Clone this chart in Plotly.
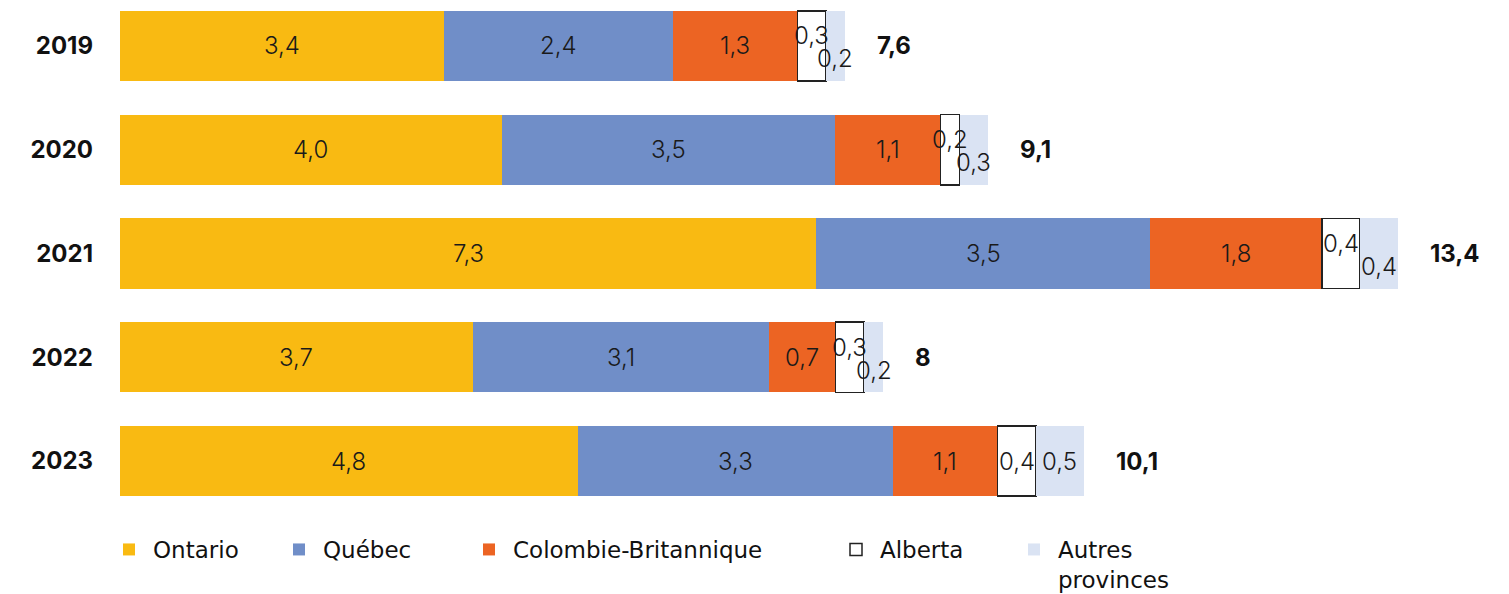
import plotly.graph_objects as go
import numpy as np

years = ["2019", "2020", "2021", "2022", "2023"]
series_names = ["Ontario", "Québec", "Colombie-Britannique", "Alberta", "Autres provinces"]
legend_labels = ["Ontario", "Québec", "Colombie-Britannique", "Alberta", "Autres<br>provinces"]
ontario = [3.4, 4.0, 7.3, 3.7, 4.8]
quebec = [2.4, 3.5, 3.5, 3.1, 3.3]
colombie = [1.3, 1.1, 1.8, 0.7, 1.1]
alberta = [0.3, 0.2, 0.4, 0.3, 0.4]
autres = [0.2, 0.3, 0.4, 0.2, 0.5]
totals = [7.6, 9.1, 13.4, 8, 10.1]
total_labels = ["7,6", "9,1", "13,4", "8", "10,1"]
# whether small-segment labels are staggered vertically (style)
stagger = [True, True, True, True, False]

values = [ontario, quebec, colombie, alberta, autres]
colors = ["#F9BA12", "#708EC8", "#EC6423", "#FFFFFF", "#DAE3F3"]
line_w = [0, 0, 0, 1.5, 0]
legend_ids = ["legend", "legend2", "legend3", "legend4", "legend5"]
legend_x_px = [105, 275, 465, 832, 1010]

FONT = "Inter, Roboto, sans-serif"
fmt = lambda v: f"{v:.1f}".replace(".", ",")

fig = go.Figure()
for i, name in enumerate(series_names):
    fig.add_trace(go.Bar(
        y=years, x=values[i], orientation="h", name=legend_labels[i],
        marker=dict(color=colors[i], line=dict(color="#222222", width=line_w[i])),
        legend=legend_ids[i], hoverinfo="skip",
    ))

annotations = []
cum = np.zeros(len(years))
for i in range(len(series_names)):
    v = np.array(values[i])
    mids = cum + v / 2
    for j, y in enumerate(years):
        ys = 0
        if stagger[j] and i == 3:
            ys = 10
        elif stagger[j] and i == 4:
            ys = -13
        annotations.append(dict(x=float(mids[j]), y=j, text=fmt(v[j]), showarrow=False,
                                xref="x", yref="y", yshift=ys,
                                font=dict(family=FONT, size=24, color="#1a1a1a", weight=300)))
    cum = cum + v

for j, y in enumerate(years):
    annotations.append(dict(x=float(cum[j]), y=j, text=f"<b>{total_labels[j]}</b>", showarrow=False,
                            xref="x", yref="y", xanchor="left", xshift=30,
                            font=dict(family=FONT, size=24, color="#111111")))

layout_legends = {}
for k, lid in enumerate(legend_ids):
    layout_legends[lid] = dict(
        x=legend_x_px[k] / 1509, xref="container", xanchor="left",
        y=1 - 528 / 594, yref="container", yanchor="top",
        orientation="h", bgcolor="rgba(0,0,0,0)", itemwidth=38,
        font=dict(family="DejaVu Sans, Arial, sans-serif", size=23, color="#111111"),
        valign="top", itemclick=False, itemdoubleclick=False,
    )

fig.update_layout(
    width=1509, height=594,
    margin=dict(l=120, r=0, t=0, b=84),
    barmode="stack", bargap=0.325,
    plot_bgcolor="white", paper_bgcolor="white",
    xaxis=dict(range=[0, 14.56], visible=False, fixedrange=True),
    yaxis=dict(type="category", range=[4.472, -0.443], showgrid=False, zeroline=False,
               showline=False, ticks="", ticklabelstandoff=26,
               tickfont=dict(family=FONT, size=24, color="#111111", weight="bold")),
    annotations=annotations,
    showlegend=True,
    **layout_legends,
)

fig.write_html("out.html")
